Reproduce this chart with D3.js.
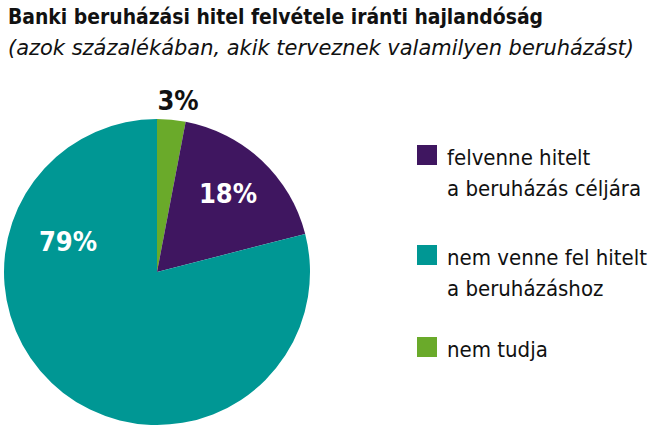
<!DOCTYPE html>
<html><head><meta charset="utf-8">
<script src="https://cdn.jsdelivr.net/npm/d3@7"></script>
<style>body{margin:0;background:#fff}svg{display:block}</style>
</head><body>
<script>
const categories = ["nem tudja", "felvenne hitelt a beruházás céljára", "nem venne fel hitelt a beruházáshoz"];
const values = [3, 18, 79];
const labels = ["3%", "18%", "79%"];
const legendOrder = [1, 2, 0];
const legendLines = [["felvenne hitelt", "a beruházás céljára"], ["nem venne fel hitelt", "a beruházáshoz"], ["nem tudja"]];
const colors = ["#6aaa2a", "#3f1660", "#009794"];

const W = 660, H = 432;
const svg = d3.select("body").append("svg").attr("width", W).attr("height", H);
const font = "'DejaVu Sans Condensed', 'Liberation Sans Narrow', sans-serif";

svg.append("text").attr("x", 8).attr("y", 24).attr("font-family", font).attr("font-weight", "bold")
  .attr("font-size", 22).attr("textLength", 535).attr("lengthAdjust", "spacingAndGlyphs").attr("fill", "#111")
  .text("Banki beruházási hitel felvétele iránti hajlandóság");
svg.append("text").attr("x", 8).attr("y", 55).attr("font-family", font).attr("font-style", "italic")
  .attr("font-size", 22).attr("textLength", 626).attr("lengthAdjust", "spacingAndGlyphs").attr("fill", "#111")
  .text("(azok százalékában, akik terveznek valamilyen beruházást)");

const cx = 157, cy = 272, r = 153;
const pie = d3.pie().sort(null).value(d => d)(values);
const arc = d3.arc().innerRadius(0).outerRadius(r);
const g = svg.append("g").attr("transform", `translate(${cx},${cy})`);
g.selectAll("path").data(pie).join("path").attr("d", arc).attr("fill", (d, i) => colors[i]);

const labelPos = [[178, 110, "#111"], [228, 203, "#fff"], [68, 251, "#fff"]];
labels.forEach((t, i) => {
  svg.append("text").attr("x", labelPos[i][0]).attr("y", labelPos[i][1]).attr("text-anchor", "middle")
    .attr("font-family", font).attr("font-weight", "bold").attr("font-size", 27).attr("fill", labelPos[i][2]).text(t);
});

const legY = [145, 245, 337];
legendOrder.forEach((ci, k) => {
  svg.append("rect").attr("x", 417).attr("y", legY[k]).attr("width", 20).attr("height", 20).attr("fill", colors[ci]);
  legendLines[k].forEach((line, j) => {
    svg.append("text").attr("x", 447).attr("y", legY[k] + 20 + j * 31).attr("font-family", font)
      .attr("font-size", 22).attr("fill", "#111").text(line);
  });
});
</script>
</body></html>
